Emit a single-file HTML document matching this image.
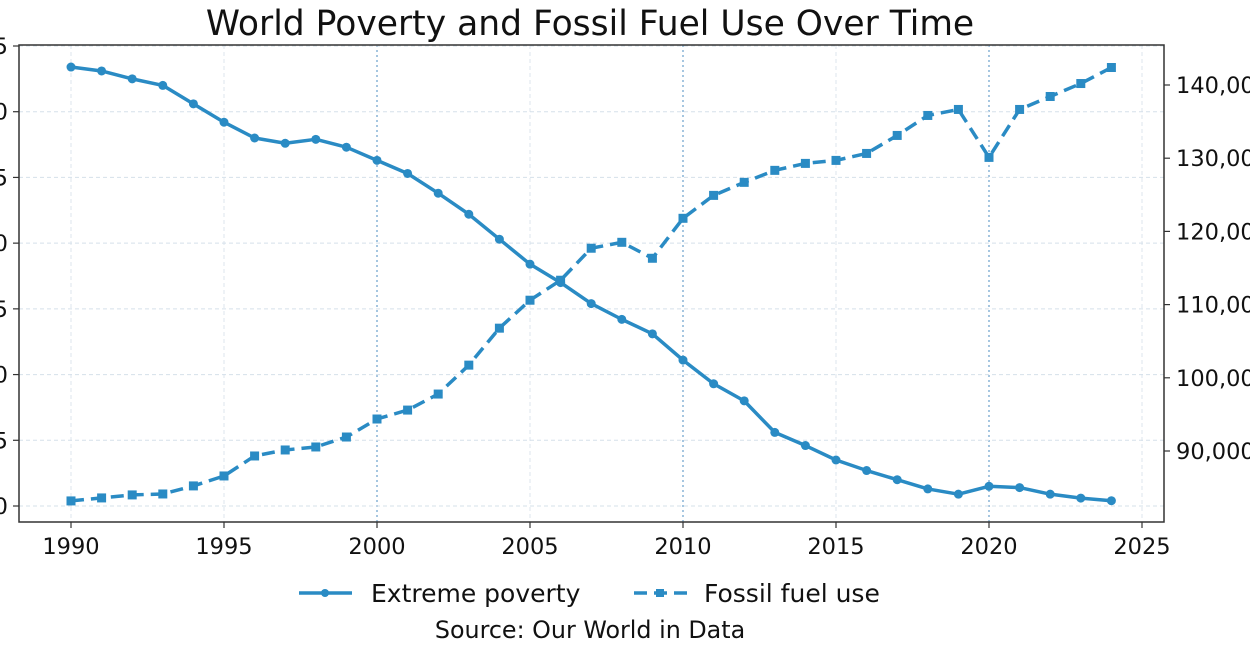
<!DOCTYPE html>
<html><head><meta charset="utf-8">
<style>
html,body{margin:0;padding:0;background:#fff;}
svg{display:block;font-family:"DejaVu Sans","Liberation Sans",sans-serif;}
</style></head>
<body>
<svg id="chart" width="1250" height="654" viewBox="0 0 1250 654" xmlns="http://www.w3.org/2000/svg">
<text x="590" y="35" font-size="34.5" text-anchor="middle" fill="#111">World Poverty and Fossil Fuel Use Over Time</text>
<g id="grid"></g>
<g id="axes"></g>
<g id="series"></g>
<g>
 <g>
  <line x1="299" y1="593" x2="352" y2="593" stroke="#2a8bc4" stroke-width="3.5"/>
  <circle cx="325" cy="593" r="4" fill="#2a8bc4"/>
  <text x="371" y="602" font-size="25" fill="#111">Extreme poverty</text>
 </g>
 <g>
  <line x1="634" y1="593" x2="687" y2="593" stroke="#2a8bc4" stroke-width="3.5" stroke-dasharray="13,7"/>
  <rect x="656" y="589" width="8" height="8" fill="#2a8bc4"/>
  <text x="704" y="602" font-size="25" fill="#111">Fossil fuel use</text>
 </g>
</g>
<text x="590" y="638" font-size="23.8" text-anchor="middle" fill="#111">Source: Our World in Data</text>
</svg>
<script>
const years = [1990,1991,1992,1993,1994,1995,1996,1997,1998,1999,2000,2001,2002,2003,2004,2005,2006,2007,2008,2009,2010,2011,2012,2013,2014,2015,2016,2017,2018,2019,2020,2021,2022,2023,2024];
const poverty = [33.4,33.1,32.5,32.0,30.6,29.2,28.0,27.6,27.9,27.3,26.3,25.3,23.8,22.2,20.3,18.4,17.0,15.4,14.2,13.1,11.1,9.3,8.0,5.6,4.6,3.5,2.7,2.0,1.3,0.9,1.5,1.4,0.9,0.6,0.4];
const fossil = [83180,83590,84000,84130,85230,86590,89320,90140,90550,91910,94370,95590,97780,101730,106780,110600,113330,117700,118510,116330,121790,124920,126700,128340,129290,129700,130650,133110,135840,136660,130110,136660,138430,140200,142390];
const xTicks = [1990,1995,2000,2005,2010,2015,2020,2025];
const leftTicks = [0,5,10,15,20,25,30,35];
const rightTicks = [90000,100000,110000,120000,130000,140000];

const L=19,R=1164,T=45,B=522;
const X = y => 71 + (y-1990)*(1142-71)/35;
const YL = v => 506 - v*(506-46)/35;
const YR = v => 451 - (v-90000)*(451-85)/50000;
const NS="http://www.w3.org/2000/svg";
function mk(parent,tag,attrs){const e=document.createElementNS(NS,tag);for(const k in attrs)e.setAttribute(k,attrs[k]);document.getElementById(parent).appendChild(e);return e;}
const col="#2a8bc4";

xTicks.forEach(t=>{
  const special = (t===2000||t===2010||t===2020);
  const g=mk('grid','line',{x1:X(t),x2:X(t),y1:T,y2:B,stroke:special?'#8fb8d8':'#dde6ee','stroke-width':special?1.6:1,'stroke-dasharray':special?'2,3':'4,3'});
  
  
});
leftTicks.forEach(t=>{
  const g=mk('grid','line',{x1:L,x2:R,y1:YL(t),y2:YL(t),stroke:'#d5e0ea','stroke-width':1,'stroke-dasharray':'4,3'});
  
  
});
const fr=mk('axes','rect',{x:L,y:T,width:R-L,height:B-T,fill:'none',stroke:'#333','stroke-width':1.5});


xTicks.forEach(t=>{
  mk('axes','line',{x1:X(t),x2:X(t),y1:B,y2:B+6,stroke:'#333','stroke-width':1.2});
  const tx=mk('axes','text',{x:X(t),y:B+32,'font-size':22.5,'text-anchor':'middle',fill:'#111'});
  tx.textContent=t;
  
  
});
leftTicks.forEach(t=>{
  mk('axes','line',{x1:L-6,x2:L,y1:YL(t),y2:YL(t),stroke:'#333','stroke-width':1.2});
  const tx=mk('axes','text',{x:8,y:YL(t)+8,'font-size':22.5,'text-anchor':'end',fill:'#111'});
  tx.textContent=t;
  
  
});
rightTicks.forEach(t=>{
  mk('axes','line',{x1:R,x2:R+6,y1:YR(t),y2:YR(t),stroke:'#333','stroke-width':1.2});
  const tx=mk('axes','text',{x:R+12,y:YR(t)+8,'font-size':22.5,fill:'#111'});
  tx.textContent=t.toLocaleString('en-US');
  
  
});
const pl=mk('series','polyline',{points:years.map((y,i)=>X(y)+','+YL(poverty[i])).join(' '),fill:'none',stroke:col,'stroke-width':3.5,'stroke-linejoin':'round'});


years.forEach((y,i)=>{
  const c=mk('series','circle',{cx:X(y),cy:YL(poverty[i]),r:4.5,fill:col});
  
  
});
const fl=mk('series','polyline',{points:years.map((y,i)=>X(y)+','+YR(fossil[i])).join(' '),fill:'none',stroke:col,'stroke-width':3.5,'stroke-dasharray':'13,7','stroke-linejoin':'round'});


years.forEach((y,i)=>{
  const r=mk('series','rect',{x:X(y)-4.5,y:YR(fossil[i])-4.5,width:9,height:9,fill:col});
  
  
});
</script>
</body></html>
